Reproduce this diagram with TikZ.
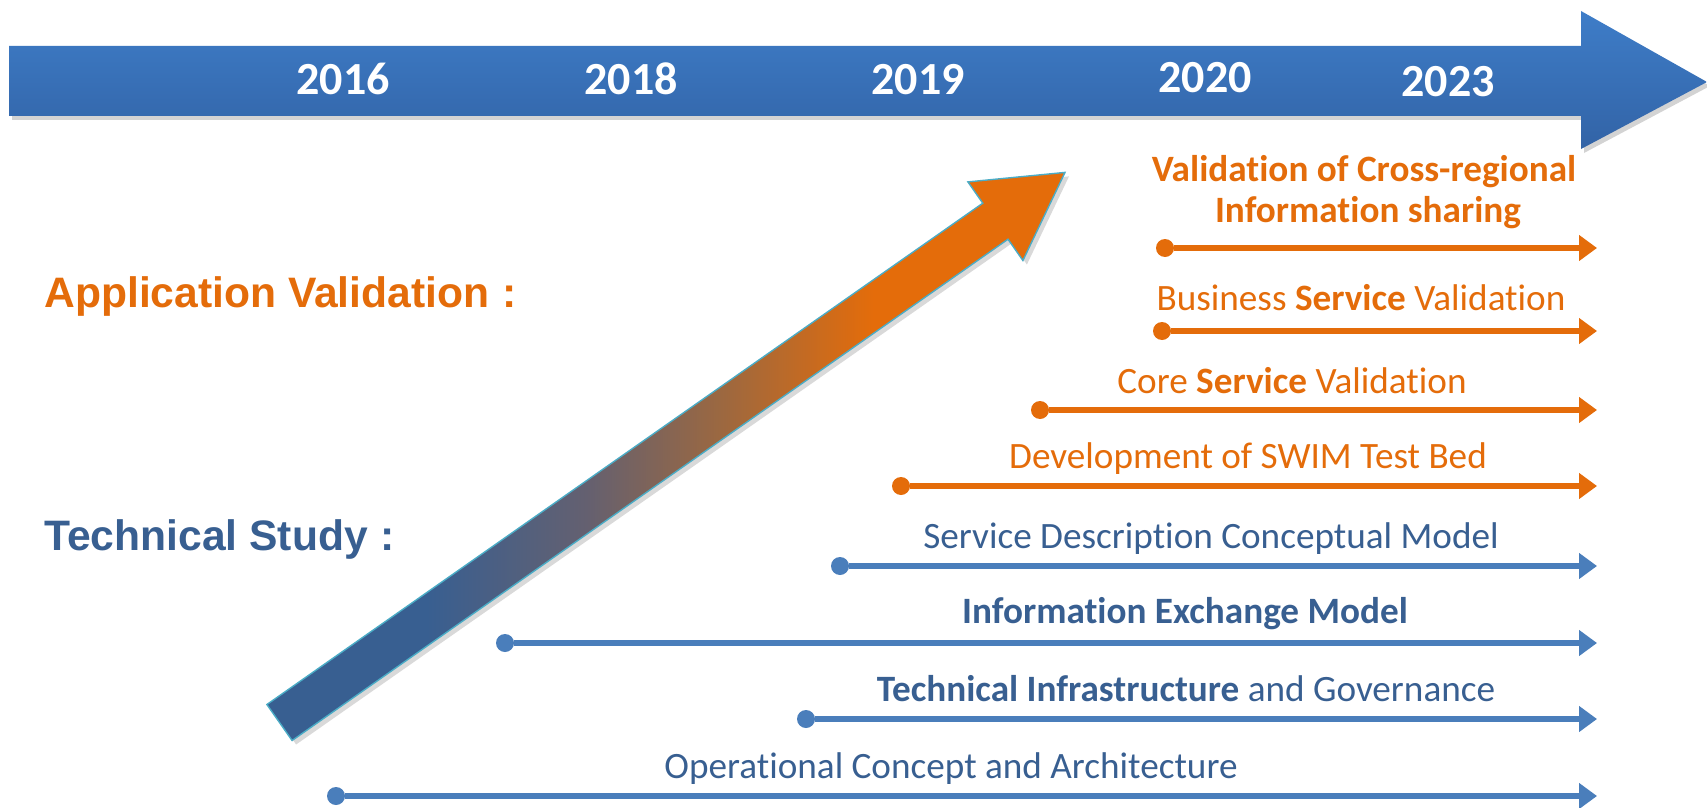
\documentclass[tikz,border=0pt]{standalone}
\usepackage{fontspec}
\setmainfont{Carlito}[Ligatures=NoCommon]
\newfontfamily\arialfont{Liberation Sans}
\usetikzlibrary{arrows.meta,shadows}

\definecolor{barblueT}{HTML}{3E7DC8}
\definecolor{barblueB}{HTML}{3263A6}
\definecolor{avorange}{HTML}{E46C0A}
\definecolor{tsblue}{HTML}{385F91}
\definecolor{lineblue}{HTML}{4A7EBB}
\definecolor{edgecyan}{HTML}{4BACC6}
\definecolor{midgrey}{HTML}{646070}
\definecolor{midbrown}{HTML}{9C6840}

\pgfdeclarehorizontalshading{bluetoorange}{100bp}{color(0bp)=(tsblue); color(25bp)=(tsblue); color(35bp)=(tsblue); color(45bp)=(midgrey); color(53.5bp)=(midbrown); color(63bp)=(avorange); color(75bp)=(avorange); color(100bp)=(avorange)}

\tikzset{
  year/.style={anchor=base, text=white, font=\bfseries\fontsize{23}{28}\selectfont},
  headline/.style={anchor=base west, inner sep=0pt, font=\arialfont\bfseries\fontsize{21.3}{25}\selectfont},
  itemo/.style={anchor=base, text=avorange, font=\fontsize{18.6}{22}\selectfont},
  itemb/.style={anchor=base, text=tsblue, font=\fontsize{18.6}{22}\selectfont},
  doto/.style={circle, fill=avorange, inner sep=0pt, minimum size=9pt},
  dotb/.style={circle, fill=lineblue, inner sep=0pt, minimum size=9pt},
  lineo/.style={draw=avorange, line width=3pt, -{Triangle[length=9pt,width=12.5pt]}},
  lineb/.style={draw=lineblue, line width=3pt, -{Triangle[length=9pt,width=12.5pt]}},
}

\begin{document}
\begin{tikzpicture}[x=0.5pt, y=-0.5pt]
    \useasboundingbox (0,0) rectangle (1707,808);
    % time bar
    \path[top color=barblueT, bottom color=barblueB, drop shadow={opacity=0.35, shadow xshift=1.5pt, shadow yshift=-2pt}]
        (9,46) -- (1581,46) -- (1581,11) -- (1707,82) -- (1581,149) -- (1581,116) -- (9,116) -- cycle;
    \node[year] (y2016) at (343,95) {2016};
    \node[year] (y2018) at (631,95) {2018};
    \node[year] (y2019) at (918,95) {2019};
    \node[year] (y2020) at (1205,93) {2020};
    \node[year] (y2023) at (1448,97) {2023};
    % rising arrow
    \shadedraw[shading=bluetoorange, draw=edgecyan, line width=0.7pt, drop shadow={opacity=0.3, shadow xshift=2pt, shadow yshift=-2pt}]
        (266.9,704.5) -- (982.8,203.2) -- (967.9,181.9) -- (1065,172.4) -- (1022.9,260.5) -- (1008.0,239.2) -- (292.1,740.5) -- cycle;
    \node[headline, text=avorange] (appval) at (44,307) {Application Validation\hspace{0.3em}:};
    \node[headline, text=tsblue] (techstudy) at (44,550) {Technical Study\hspace{0.3em}:};
    % application validation
    \node[itemo] (valtxt) at (1364,181) {\bfseries Validation of Cross-regional};
    \node[itemo] (valtxtb) at (1368,222) {\bfseries Information sharing};
    \node[doto] (valS) at (1165,248) {};
    \coordinate (valE) at (1597,248);
    \draw[lineo] (valS) -- (valE);
    \node[itemo] (bsvtxt) at (1361,310) {Business \textbf{Service} Validation};
    \node[doto] (bsvS) at (1162,331) {};
    \coordinate (bsvE) at (1597,331);
    \draw[lineo] (bsvS) -- (bsvE);
    \node[itemo] (csvtxt) at (1292,393) {Core \textbf{Service} Validation};
    \node[doto] (csvS) at (1040,410) {};
    \coordinate (csvE) at (1597,410);
    \draw[lineo] (csvS) -- (csvE);
    \node[itemo] (tbtxt) at (1248,468) {Development of SWIM Test Bed};
    \node[doto] (tbS) at (901,486) {};
    \coordinate (tbE) at (1597,486);
    \draw[lineo] (tbS) -- (tbE);
    % technical study
    \node[itemb] (sdtxt) at (1211,548) {Service Description Conceptual Model};
    \node[dotb] (sdS) at (840,566) {};
    \coordinate (sdE) at (1597,566);
    \draw[lineb] (sdS) -- (sdE);
    \node[itemb] (iemtxt) at (1185,623) {\bfseries Information Exchange Model};
    \node[dotb] (iemS) at (505,643) {};
    \coordinate (iemE) at (1597,643);
    \draw[lineb] (iemS) -- (iemE);
    \node[itemb] (tigtxt) at (1186,701) {\textbf{Technical Infrastructure} and Governance};
    \node[dotb] (tigS) at (806,719) {};
    \coordinate (tigE) at (1597,719);
    \draw[lineb] (tigS) -- (tigE);
    \node[itemb] (ocatxt) at (951,778) {Operational Concept and Architecture};
    \node[dotb] (ocaS) at (336,796) {};
    \coordinate (ocaE) at (1597,796);
    \draw[lineb] (ocaS) -- (ocaE);
\end{tikzpicture}
\end{document}
